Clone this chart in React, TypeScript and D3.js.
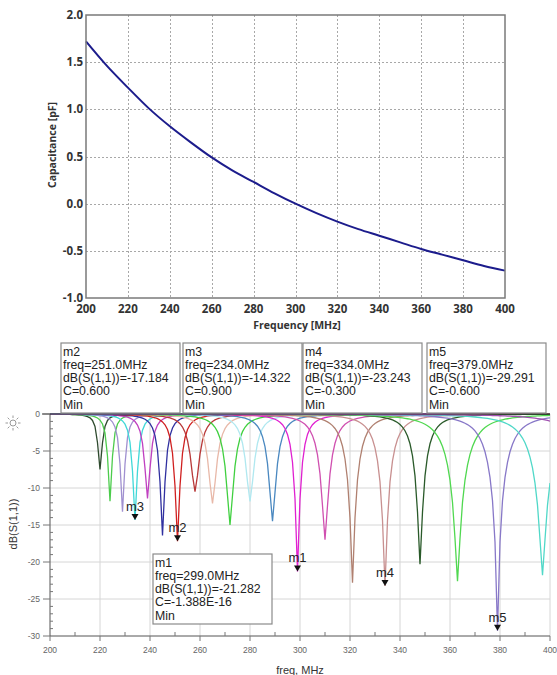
import React from 'react';
import * as d3 from 'd3';

// ---------- Top chart data ----------
const capFreq = [200, 210, 220, 230, 240, 250, 260, 270, 280, 290, 300, 310, 320, 330, 340, 350, 360, 370, 380, 390, 400];
const capValues = [1.72, 1.46, 1.23, 1.01, 0.82, 0.65, 0.49, 0.35, 0.23, 0.11, 0.0, -0.1, -0.19, -0.27, -0.34, -0.41, -0.48, -0.54, -0.6, -0.66, -0.71];
const capXTicks = [200, 220, 240, 260, 280, 300, 320, 340, 360, 380, 400];
const capYTicks = [2.0, 1.5, 1.0, 0.5, 0.0, -0.5, -1.0];

// ---------- Bottom chart data ----------
const resFreq = [220, 224, 229, 234, 239, 245, 251, 258, 265, 272, 280, 289, 299, 310, 321, 334, 348, 363, 379, 397, 418];
const resDepth = [-7.5, -11.8, -13.2, -14.322, -11.4, -16.4, -17.184, -10.5, -12.1, -15.0, -11.8, -14.5, -21.282, -17.0, -22.8, -23.243, -20.3, -22.6, -29.291, -21.8, -20.0];
const resWidth = [1.6, 1.9, 2.2, 2.5, 2.7, 3.0, 3.2, 3.8, 4.0, 4.4, 4.0, 4.2, 3.8, 5.0, 5.3, 5.5, 5.0, 8.0, 7.5, 8.5, 9.0];
const resColors = ['#2e4a2e', '#4ccc4c', '#a090d0', '#40d8d8', '#c040c0', '#3030a0', '#d02020', '#b83838', '#e8b8a8', '#40d040', '#b0e8f0', '#4a88c0', '#e020d0', '#d050b0', '#b08070', '#c89090', '#2a5a2a', '#50d850', '#8878c8', '#50d8c8', '#a050b0'];
const sweepFreq = d3.range(200, 401, 1);
const sParXTicks = [200, 220, 240, 260, 280, 300, 320, 340, 360, 380, 400];
const sParYTicks = [0, -5, -10, -15, -20, -25, -30];

const markerNames = ['m1', 'm2', 'm3', 'm4', 'm5'];
const markerFreq = [299, 251, 234, 334, 379];
const markerDb = [-21.282, -17.184, -14.322, -23.243, -29.291];
const markerC = ['-1.388E-16', '0.600', '0.900', '-0.300', '-0.600'];

// layout of readout boxes (x, y) for each marker
const boxPos: [number, number][] = [[153, 554], [61, 343], [183, 343], [303, 343], [427, 343]];
const boxW = 119;
const boxH = 70;

function resCurve(f0: number, depth: number, w: number) {
  const a0 = 1 - Math.pow(10, depth / 10);
  return sweepFreq.map((f) => {
    const x = (f - f0) / w;
    const g2 = 1 - a0 / (1 + x * x);
    return { f, v: 10 * Math.log10(g2) };
  });
}

const crisp = (v: number) => Math.round(v) + 0.5;

export default function App() {
  // Top chart
  const tL = 86, tR = 505, tT = 15, tB = 298;
  const tx = d3.scaleLinear().domain([200, 400]).range([tL, tR]);
  const ty = d3.scaleLinear().domain([-1, 2]).range([tB, tT]);
  const capLine = d3.line<number>()
    .x((_, i) => tx(capFreq[i]))
    .y((d) => ty(d))
    .curve(d3.curveMonotoneX)(capValues) || '';

  // Bottom chart
  const bL = 50, bR = 550, bT = 414, bB = 636;
  const bx = d3.scaleLinear().domain([200, 400]).range([bL, bR]);
  const by = d3.scaleLinear().domain([-30, 0]).range([bB, bT]);
  const lineGen = d3.line<{ f: number; v: number }>().x((d) => bx(d.f)).y((d) => by(d.v));
  const minorY = d3.range(0, -31, -1);
  const minorX = d3.range(210, 400, 20);

  const topFont = "'Open Sans', sans-serif";
  const arial = "'Liberation Sans', Arial, sans-serif";

  return (
    <svg width={557} height={675} style={{ position: 'absolute', left: 0, top: 0, background: '#fff' }}>
      <rect x={0} y={0} width={557} height={675} fill="#fff" />
      {/* ----- Top chart ----- */}
      <g>
        {capXTicks.slice(1, -1).map((t) => (
          <line key={'gx' + t} x1={crisp(tx(t))} x2={crisp(tx(t))} y1={tT} y2={tB} stroke="#a8a8a8" strokeWidth={1} strokeDasharray="2,2" />
        ))}
        {capYTicks.slice(1, -1).map((t) => (
          <line key={'gy' + t} x1={tL} x2={tR} y1={crisp(ty(t))} y2={crisp(ty(t))} stroke="#a8a8a8" strokeWidth={1} strokeDasharray="2,2" />
        ))}
        <path d={capLine} fill="none" stroke="#1c1c8c" strokeWidth={2} />
        <rect x={tL} y={tT} width={tR - tL} height={tB - tT} fill="none" stroke="#7a7a7a" strokeWidth={1.5} />
        {capXTicks.map((t) => (
          <text key={'tx' + t} x={tx(t)} y={313} textAnchor="middle" fontFamily={topFont} fontWeight="bold" fontSize={11.5} fill="#333">{t}</text>
        ))}
        {capYTicks.map((t) => (
          <text key={'ty' + t} x={83} y={ty(t) + 4} textAnchor="end" fontFamily={topFont} fontWeight="bold" fontSize={11.5} fill="#333">{t.toFixed(1)}</text>
        ))}
        <text x={297} y={329} textAnchor="middle" fontFamily={topFont} fontWeight="bold" fontSize={10.5} fill="#333">Frequency [MHz]</text>
        <text transform="translate(56,145) rotate(-90)" textAnchor="middle" fontFamily={topFont} fontWeight="bold" fontSize={10.5} fill="#333">Capacitance [pF]</text>
      </g>

      {/* ----- Bottom chart ----- */}
      <g>
        {sParXTicks.slice(1).map((t) => (
          <line key={'bgx' + t} x1={bx(t)} x2={bx(t)} y1={bT} y2={bB} stroke="#d6d6d6" strokeWidth={1} />
        ))}
        {sParYTicks.slice(1, -1).map((t) => (
          <line key={'bgy' + t} x1={bL} x2={bR} y1={by(t)} y2={by(t)} stroke="#d6d6d6" strokeWidth={1} />
        ))}
        <defs>
          <clipPath id="bclip">
            <rect x={bL} y={bT - 1} width={bR - bL} height={bB - bT + 2} />
          </clipPath>
        </defs>
        <g clipPath="url(#bclip)">
          {resFreq.map((f0, i) => (
            <path key={'c' + i} d={lineGen(resCurve(f0, resDepth[i], resWidth[i])) || ''} fill="none" stroke={resColors[i]} strokeWidth={1.3} />
          ))}
        </g>
        {/* axes */}
        <line x1={bL} x2={bL} y1={bT} y2={bB} stroke="#555" strokeWidth={1} />
        <line x1={bL} x2={bR} y1={bB} y2={bB} stroke="#555" strokeWidth={1} />
        <line x1={bL - 8} x2={bR} y1={bT} y2={bT} stroke="#333" strokeWidth={1.2} />
        {minorY.map((t) => (
          <line key={'my' + t} x1={bL} x2={bL + (t % 5 === 0 ? 0 : 3)} y1={by(t)} y2={by(t)} stroke="#777" />
        ))}
        {sParYTicks.map((t) => (
          <line key={'My' + t} x1={bL - 7} x2={bL} y1={by(t)} y2={by(t)} stroke="#777" />
        ))}
        {minorX.map((t) => (
          <line key={'mx' + t} x1={bx(t)} x2={bx(t)} y1={bB} y2={bB - 4} stroke="#777" />
        ))}
        {sParXTicks.map((t) => (
          <line key={'Mx' + t} x1={bx(t)} x2={bx(t)} y1={bB} y2={bB + 5} stroke="#777" />
        ))}
        {sParYTicks.map((t) => (
          <text key={'bty' + t} x={40} y={by(t) + 3} textAnchor="end" fontFamily={arial} fontSize={8.5} fill="#666">{t}</text>
        ))}
        {sParXTicks.map((t) => (
          <text key={'btx' + t} x={bx(t)} y={653} textAnchor="middle" fontFamily={arial} fontSize={8.5} fill="#666">{t}</text>
        ))}
        <text x={300} y={674} textAnchor="middle" fontFamily={arial} fontSize={11} fill="#333">freq, MHz</text>
        <text transform="translate(17,524) rotate(-90)" textAnchor="middle" fontFamily={arial} fontSize={11} fill="#333">dB(S(1,1))</text>

        {/* sun icon */}
        <g transform="translate(13,423)" stroke="#999" strokeWidth={1}>
          <circle r={3} fill="none" />
          {d3.range(0, 360, 45).map((a) => {
            const r = (a * Math.PI) / 180;
            return <line key={'s' + a} x1={Math.cos(r) * 5} y1={Math.sin(r) * 5} x2={Math.cos(r) * 7.5} y2={Math.sin(r) * 7.5} />;
          })}
        </g>

        {/* markers */}
        {markerNames.map((m, i) => {
          const x = bx(markerFreq[i]);
          const y = by(markerDb[i]);
          return (
            <g key={m}>
              <path d={`M${x},${y} L${x - 3.5},${y - 6} L${x + 3.5},${y - 6} Z`} fill="#111" />
              <text x={x} y={y - 9} textAnchor="middle" fontFamily={arial} fontSize={13} fill="#222">{m}</text>
            </g>
          );
        })}

        {/* readout boxes */}
        {markerNames.map((m, i) => {
          const [x0, y0] = boxPos[i];
          const lines = [m, `freq=${markerFreq[i].toFixed(1)}MHz`, `dB(S(1,1))=${markerDb[i].toFixed(3)}`, `C=${markerC[i]}`, 'Min'];
          return (
            <g key={'box' + m}>
              <rect x={x0} y={y0} width={boxW} height={boxH} fill="#fff" stroke="#8a8a8a" strokeWidth={1.2} />
              {lines.map((s, j) => (
                <text key={j} x={x0 + 2} y={y0 + 12.5 + j * 13.3} fontFamily={arial} fontSize={12.3} fill="#222">{s}</text>
              ))}
            </g>
          );
        })}
      </g>
    </svg>
  );
}
